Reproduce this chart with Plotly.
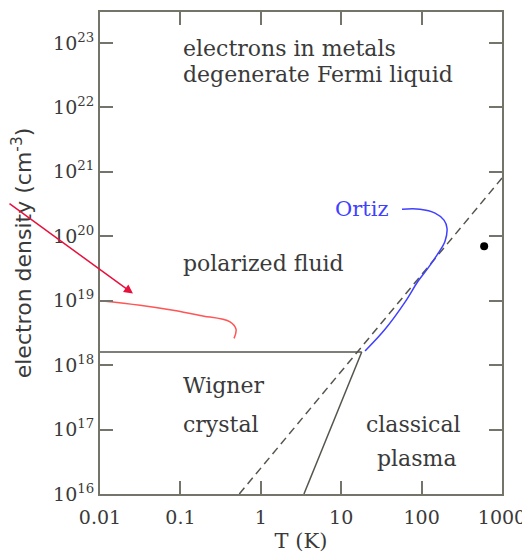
import math
import plotly.graph_objects as go

# ---- data ----
boundary_T = [0.01, 18]
boundary_n = [1.6e18, 1.6e18]
melt_T = [18, 3.44]
melt_n = [1.6e18, 1e16]
degen_T = [0.54, 1000]
degen_n = [1e16, 8e20]
ortiz_T = [19.8, 35.1, 62.2, 90.2, 120, 160, 195, 207, 190, 147, 95.5, 57]
ortiz_n = [1.66e18, 3.6e18, 9.5e18, 2.0e19, 3.2e19, 5.4e19, 8.3e19, 1.33e20, 1.78e20, 2.29e20, 2.63e20, 2.63e20]
red_T = [0.01, 0.0315, 0.081, 0.175, 0.414, 0.492, 0.465]
red_n = [1.0e19, 8.5e18, 7.1e18, 5.9e18, 4.7e18, 3.6e18, 2.6e18]
dot_T = [600]
dot_n = [7.0e19]
x_ticks = [0.01, 0.1, 1, 10, 100, 1000]
x_ticklabels = ["0.01", "0.1", "1", "10", "100", "1000"]
y_ticks = [1e16, 1e17, 1e18, 1e19, 1e20, 1e21, 1e22, 1e23]
y_ticklabels = ["10<sup>16</sup>", "10<sup>17</sup>", "10<sup>18</sup>", "10<sup>19</sup>",
                "10<sup>20</sup>", "10<sup>21</sup>", "10<sup>22</sup>", "10<sup>23</sup>"]
region_labels = [
    ("electrons in metals", 0.1016, 8.2e22, "left"),
    ("degenerate Fermi liquid", 0.1016, 3.2e22, "left"),
    ("polarized fluid", 0.1016, 3.8e19, "left"),
    ("Wigner", 0.1016, 4.9e17, "left"),
    ("crystal", 0.1016, 1.2e17, "left"),
    ("classical", 80, 1.2e17, "center"),
    ("plasma", 87, 3.5e16, "center"),
]
ortiz_label = ("Ortiz", 7.9, 2.63e20)
arrow_head = (0.0257, 1.29e19)

SERIF = "DejaVu Serif"
SANS = "DejaVu Sans"
GRAY = "#55554d"
TXT = "#3a3a3a"
L10 = math.log10

fig = go.Figure()
fig.add_trace(go.Scatter(x=boundary_T, y=boundary_n, mode="lines",
                         line=dict(color=GRAY, width=1.5), showlegend=False))
fig.add_trace(go.Scatter(x=melt_T, y=melt_n, mode="lines",
                         line=dict(color=GRAY, width=1.5), showlegend=False))
fig.add_trace(go.Scatter(x=degen_T, y=degen_n, mode="lines",
                         line=dict(color=GRAY, width=1.5, dash="8px,5px"), showlegend=False))
fig.add_trace(go.Scatter(x=ortiz_T, y=ortiz_n, mode="lines",
                         line=dict(color="#4040ff", width=1.5, shape="spline"), showlegend=False))
fig.add_trace(go.Scatter(x=red_T, y=red_n, mode="lines",
                         line=dict(color="#ff5555", width=1.5, shape="spline"), showlegend=False))
fig.add_trace(go.Scatter(x=dot_T, y=dot_n, mode="markers",
                         marker=dict(color="black", size=8), showlegend=False))

for text, x, y, anchor in region_labels:
    fig.add_annotation(x=L10(x), y=L10(y), xref="x", yref="y", text=text, showarrow=False,
                       xanchor=anchor, yanchor="middle",
                       font=dict(family=SERIF, size=22, color=TXT))

fig.add_annotation(x=L10(ortiz_label[1]), y=L10(ortiz_label[2]), xref="x", yref="y",
                   text=ortiz_label[0], showarrow=False, xanchor="left", yanchor="middle",
                   font=dict(family=SERIF, size=21, color="#4040ff"))

# red arrow
fig.add_annotation(x=L10(arrow_head[0]), y=L10(arrow_head[1]), xref="x", yref="y", text="",
                   showarrow=True, ax=-125, ay=-91, arrowhead=2, arrowsize=1.2, arrowwidth=1.5,
                   arrowcolor="#e8103c")

axis_common = dict(showgrid=False, zeroline=False, showline=True, linecolor="#74746a",
                   linewidth=2, mirror="ticks", ticks="inside", ticklen=13, tickwidth=1.5,
                   tickcolor="#74746a", automargin=False,
                   tickfont=dict(family=SERIF, size=19, color=TXT))

fig.update_xaxes(type="log", range=[-2, 3], tickvals=x_ticks, ticktext=x_ticklabels,
                 ticklabelstandoff=5,
                 title=dict(text="T (K)", font=dict(family=SERIF, size=21, color=TXT), standoff=16),
                 **axis_common)
fig.update_yaxes(type="log", range=[16, 23.48], tickvals=y_ticks, ticktext=y_ticklabels,
                 title=dict(text="electron density (cm<sup>-3</sup>)",
                            font=dict(family=SANS, size=22, color=TXT), standoff=17),
                 **axis_common)

# page body has an 8px margin, so the figure is drawn 8px smaller and offset
fig.update_layout(width=522, height=545, margin=dict(l=92, r=28, t=4, b=59),
                  plot_bgcolor="white", paper_bgcolor="white")

fig.write_html("out.html")
